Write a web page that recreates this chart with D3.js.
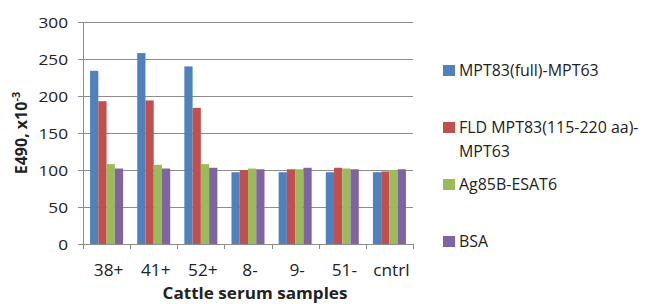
<!DOCTYPE html>
<html>
<head>
<meta charset="utf-8">
<script src="https://cdn.jsdelivr.net/npm/d3@7"></script>
<style>
  body { margin: 0; background: #fff; }
  text { font-family: "Open Sans", sans-serif; }
</style>
</head>
<body>
<script>
// values
var samples = ["38+", "41+", "52+", "8-", "9-", "51-", "cntrl"];
var seriesNames = ["MPT83(full)-MPT63", "FLD MPT83(115-220 aa)-MPT63", "Ag85B-ESAT6", "BSA"];
var mpt83full = [234, 258, 240, 97, 97, 97, 97];
var fldMpt83 = [193, 194, 184, 100, 101, 103, 98];
var ag85b = [108, 107, 108, 102, 101, 102, 100];
var bsa = [102, 102, 103, 101, 103, 101, 101];
var yTicks = [0, 50, 100, 150, 200, 250, 300];
var colors = ["#4f81bd", "#c0504d", "#9bbb59", "#8064a2"];

var allSeries = [mpt83full, fldMpt83, ag85b, bsa];

var width = 651, height = 304;
var plotLeft = 83, plotRight = 413, plotTop = 22, plotBottom = 244;

var svg = d3.select("body").append("svg")
  .attr("width", width)
  .attr("height", height);

var x0 = d3.scaleBand().domain(samples).range([plotLeft, plotRight])
  .paddingInner(0.3).paddingOuter(0.15);
var x1 = d3.scaleBand().domain(d3.range(seriesNames.length)).range([0, x0.bandwidth()]);
var y = d3.scaleLinear().domain([0, 300]).range([plotBottom, plotTop]);

// the reference picture is a bit stretched sideways, so text gets a small x-scale
function place(x, yy, sx) {
  return "translate(" + x + "," + yy + ") scale(" + sx + ",1)";
}

// gridlines
svg.append("g").selectAll("line")
  .data(yTicks)
  .enter().append("line")
  .attr("x1", plotLeft - 5).attr("x2", plotRight)
  .attr("y1", function(d) { return Math.round(y(d)) + 0.5; })
  .attr("y2", function(d) { return Math.round(y(d)) + 0.5; })
  .attr("stroke", "#8c8c8c")
  .attr("stroke-width", 1);

// y labels
svg.append("g").selectAll("text")
  .data(yTicks)
  .enter().append("text")
  .attr("transform", function(d) { return place(68, y(d) + 6, 1.15); })
  .attr("text-anchor", "end")
  .attr("font-size", "15px")
  .attr("fill", "#222")
  .text(function(d) { return d; });

// bars
var rows = [];
samples.forEach(function(s, i) {
  allSeries.forEach(function(vals, k) {
    rows.push({ sample: s, k: k, v: vals[i] });
  });
});
svg.append("g").selectAll("rect")
  .data(rows)
  .enter().append("rect")
  .attr("x", function(d) { return x0(d.sample) + x1(d.k); })
  .attr("width", x1.bandwidth())
  .attr("y", function(d) { return y(d.v); })
  .attr("height", function(d) { return y(0) - y(d.v); })
  .attr("fill", function(d) { return colors[d.k]; });

// axes lines
svg.append("line")
  .attr("x1", plotLeft + 0.5).attr("x2", plotLeft + 0.5).attr("y1", plotTop).attr("y2", plotBottom)
  .attr("stroke", "#8c8c8c");
svg.append("line")
  .attr("x1", plotLeft).attr("x2", plotRight).attr("y1", plotBottom + 0.5).attr("y2", plotBottom + 0.5)
  .attr("stroke", "#8c8c8c");

// x ticks at category boundaries
var step = x0.step();
svg.append("g").selectAll("line")
  .data(d3.range(samples.length + 1))
  .enter().append("line")
  .attr("x1", function(i) { return Math.round(plotLeft + i * step) + 0.5; })
  .attr("x2", function(i) { return Math.round(plotLeft + i * step) + 0.5; })
  .attr("y1", plotBottom).attr("y2", plotBottom + 5)
  .attr("stroke", "#8c8c8c");

// x labels
svg.append("g").selectAll("text")
  .data(samples)
  .enter().append("text")
  .attr("transform", function(d) { return place(x0(d) + x0.bandwidth() / 2 + 2, 276, 1.08); })
  .attr("text-anchor", "middle")
  .attr("font-size", "16px")
  .attr("fill", "#222")
  .text(function(d) { return d; });

// axis titles
svg.append("text")
  .attr("transform", place(255, 299, 1.07))
  .attr("text-anchor", "middle")
  .attr("font-size", "16px")
  .attr("font-weight", "bold")
  .attr("fill", "#222")
  .text("Cattle serum samples");

var yt = svg.append("text")
  .attr("transform", "translate(27,133) rotate(-90)")
  .attr("text-anchor", "middle")
  .attr("font-size", "16px")
  .attr("font-weight", "bold")
  .attr("fill", "#222");
yt.append("tspan").text("E490, x10");
yt.append("tspan").attr("dy", -7).attr("font-size", "11px").text("-3");

// legend
var legendY = [76, 133, 190, 247];
var legendLines = [["MPT83(full)-MPT63"], ["FLD MPT83(115-220 aa)-", "MPT63"], ["Ag85B-ESAT6"], ["BSA"]];
var lg = svg.append("g").selectAll("g")
  .data(seriesNames)
  .enter().append("g")
  .attr("transform", function(d, i) { return "translate(443," + legendY[i] + ")"; });
lg.append("rect")
  .attr("x", 0).attr("y", -11)
  .attr("width", 12).attr("height", 11)
  .attr("fill", function(d, i) { return colors[i]; });
lg.each(function(d, i) {
  var g = d3.select(this);
  legendLines[i].forEach(function(line, j) {
    g.append("text")
      .attr("transform", place(16, j * 24, 1.03))
      .attr("font-size", "15.5px")
      .attr("fill", "#222")
      .text(line);
  });
});
</script>
</body>
</html>
